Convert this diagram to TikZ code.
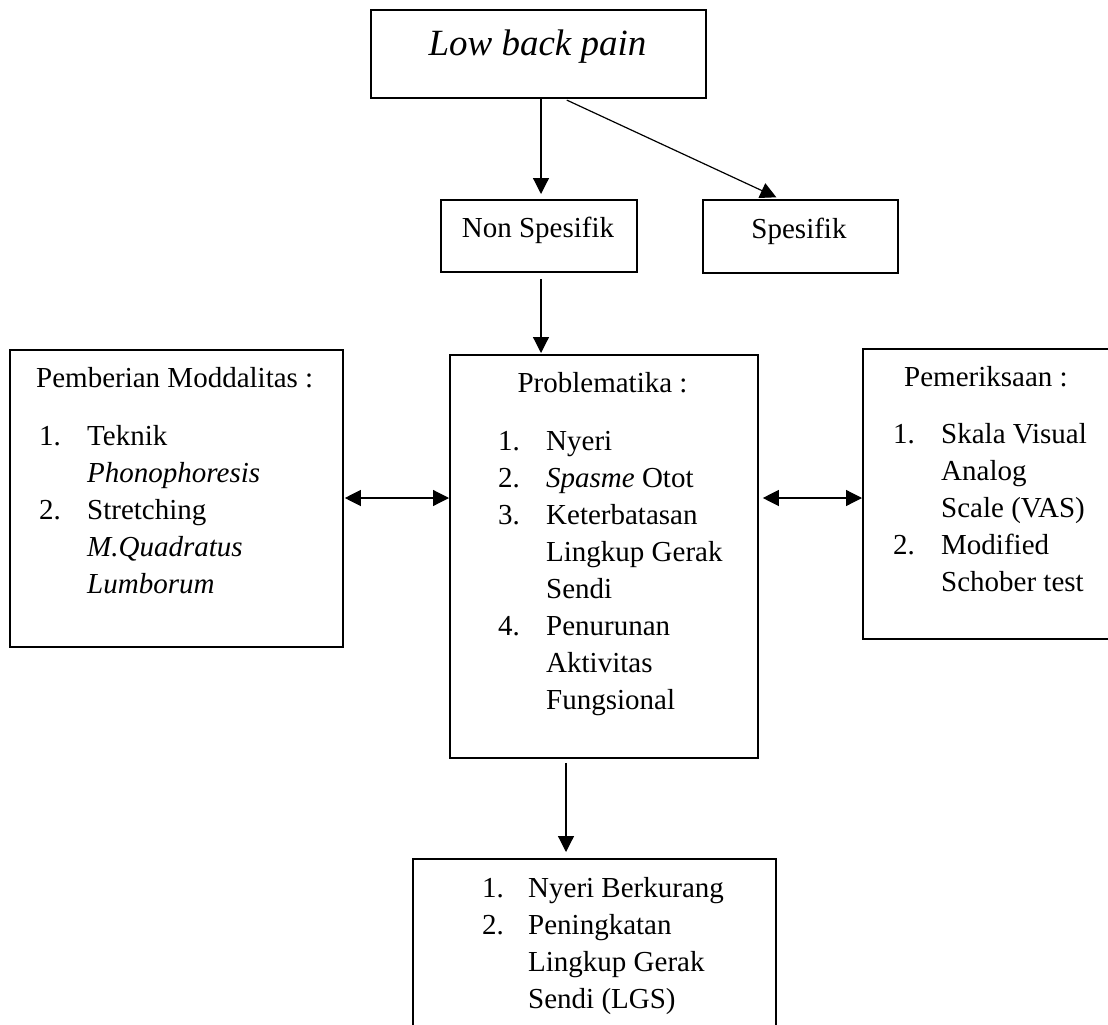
\documentclass[tikz,border=0pt]{standalone}
\usepackage{fontspec}
\setmainfont{Liberation Serif}
\usetikzlibrary{arrows.meta}
\begin{document}
\begin{tikzpicture}[x=1pt,y=-1pt,
  box/.style={draw, line width=1.8pt, inner sep=0pt, anchor=north west},
  txt/.style={inner sep=0pt, anchor=base west, font=\fontsize{29}{37}\selectfont},
  ctxt/.style={txt, anchor=base},
  arr/.style={line width=1.2pt, -{Triangle[length=16pt,width=16pt]}},
  darr/.style={line width=1.2pt, {Triangle[length=16pt,width=16pt]}-{Triangle[length=16pt,width=16pt]}}]
\useasboundingbox (0,0) rectangle (1108,1025);
\clip (0,0) rectangle (1108,1025);
\fill[white] (0,0) rectangle (1108,1025);

% boxes
\node[box, minimum width=335pt, minimum height=88pt] (lbp) at (370,9) {};
\node[box, minimum width=196pt, minimum height=72pt] (nons) at (440,199) {};
\node[box, minimum width=195pt, minimum height=73pt] (spes) at (702,199) {};
\node[box, minimum width=333pt, minimum height=297pt] (mod) at (9,349) {};
\node[box, minimum width=308pt, minimum height=403pt] (prob) at (449,354) {};
\node[box, minimum width=300pt, minimum height=290pt] (pem) at (862,348) {};
\node[box, minimum width=363pt, minimum height=250pt] (res) at (412,858) {};

% titles
\node[ctxt, font=\fontsize{37}{44}\selectfont\itshape] (lbpt) at (537.5,56) {Low back pain};
\node[ctxt] (nonst) at (538,237) {Non Spesifik};
\node[ctxt] (spest) at (799,238) {Spesifik};

% Pemberian Moddalitas
\node[txt] (modt) at (36,387) {Pemberian Moddalitas :};
\node[txt] (m1n) at (39,445) {1.};
\node[txt] (m1a) at (87,445) {Teknik};
\node[txt] (m1b) at (87,482) {\textit{Phonophoresis}};
\node[txt] (m2n) at (39,519) {2.};
\node[txt] (m2a) at (87,519) {Stretching};
\node[txt] (m2b) at (87,556) {\textit{M.Quadratus}};
\node[txt] (m2c) at (87,593) {\textit{Lumborum}};

% Problematika
\node[ctxt] (probt) at (602.5,392) {Problematika :};
\node[txt] (p1n) at (498,450) {1.};
\node[txt] (p1a) at (546,450) {Nyeri};
\node[txt] (p2n) at (498,487) {2.};
\node[txt] (p2a) at (546,487) {\textit{Spasme} Otot};
\node[txt] (p3n) at (498,524) {3.};
\node[txt] (p3a) at (546,524) {Keterbatasan};
\node[txt] (p3b) at (546,561) {Lingkup Gerak};
\node[txt] (p3c) at (546,598) {Sendi};
\node[txt] (p4n) at (498,635) {4.};
\node[txt] (p4a) at (546,635) {Penurunan};
\node[txt] (p4b) at (546,672) {Aktivitas};
\node[txt] (p4c) at (546,709) {Fungsional};

% Pemeriksaan
\node[txt] (pemt) at (904,386) {Pemeriksaan :};
\node[txt] (e1n) at (893,443) {1.};
\node[txt] (e1a) at (941,443) {Skala Visual};
\node[txt] (e1b) at (941,480) {Analog};
\node[txt] (e1c) at (941,517) {Scale (VAS)};
\node[txt] (e2n) at (893,554) {2.};
\node[txt] (e2a) at (941,554) {Modified};
\node[txt] (e2b) at (941,591) {Schober test};

% Result
\node[txt] (r1n) at (482,897) {1.};
\node[txt] (r1a) at (528,897) {Nyeri Berkurang};
\node[txt] (r2n) at (482,934) {2.};
\node[txt] (r2a) at (528,934) {Peningkatan};
\node[txt] (r2b) at (528,971) {Lingkup Gerak};
\node[txt] (r2c) at (528,1008) {Sendi (LGS)};

% connectors
\coordinate (xa) at (541,0);
\coordinate (xb) at (566,0);
\coordinate (xs) at (564,0);
\coordinate (xe) at (780,0);
\coordinate (cy) at (0,498);
\draw[arr, shorten >=5pt] (lbp.south -| xa) -- (nons.north -| xa);
\draw[arr, shorten <=3pt, shorten >=4pt] (lbp.south -| xs) -- (spes.north -| xe);
\draw[arr, shorten <=6pt, shorten >=1pt] (nons.south -| xa) -- (prob.north -| xa);
\draw[arr, shorten <=4pt, shorten >=6pt] (prob.south -| xb) -- (res.north -| xb);
\draw[darr, shorten <=1pt] (mod.east |- cy) -- (prob.west |- cy);
\draw[darr, shorten <=4pt] (prob.east |- cy) -- (pem.west |- cy);
\end{tikzpicture}
\end{document}
